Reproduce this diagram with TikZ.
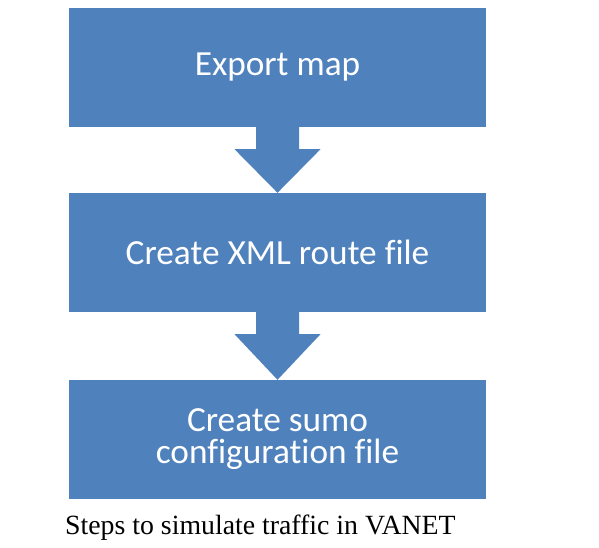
\documentclass[tikz,border=0pt]{standalone}
\usepackage{fontspec}
\setmainfont{Liberation Serif}
\newfontfamily\boxfont[Ligatures=NoCommon]{Carlito}
\usepackage{tikz}
\usetikzlibrary{calc}
\definecolor{stepblue}{HTML}{4F81BD}
\tikzset{
	stepstyle/.style={rectangle,fill=stepblue,text=white,minimum width=417pt,minimum height=119pt,inner sep=0pt,align=center,font=\boxfont\fontsize{35.3}{32}\selectfont},
	arrowstyle/.style={fill=stepblue},
	captionstyle/.style={anchor=base west,inner sep=0pt,font=\fontsize{27.8}{30}\selectfont}
}

\begin{document}
\begin{tikzpicture}[x=1pt,y=1pt]
	\useasboundingbox (0,0) rectangle (599,548);
	\node[stepstyle] (a) at (277.5,480.5) {Export map};
	\node[stepstyle] (b) at (277.5,295.5) {Create XML route file};
	\node[stepstyle] (c) at (277.5,108.5) {Create sumo\\configuration file};
	\fill[arrowstyle] ($(a.south)+(-21.5,0)$) -- ($(a.south)+(21.5,0)$) -- ($(a.south)+(21.5,-22)$)
	-- ($(a.south)+(43,-22)$) -- (b.north) -- ($(a.south)+(-43,-22)$) -- ($(a.south)+(-21.5,-22)$) -- cycle;
	\fill[arrowstyle] ($(b.south)+(-21.5,0)$) -- ($(b.south)+(21.5,0)$) -- ($(b.south)+(21.5,-22)$)
	-- ($(b.south)+(43,-22)$) -- (c.north) -- ($(b.south)+(-43,-22)$) -- ($(b.south)+(-21.5,-22)$) -- cycle;
	\node[captionstyle] (ct) at (65,13) {Steps to simulate traffic in VANET};
\end{tikzpicture}
\end{document}
